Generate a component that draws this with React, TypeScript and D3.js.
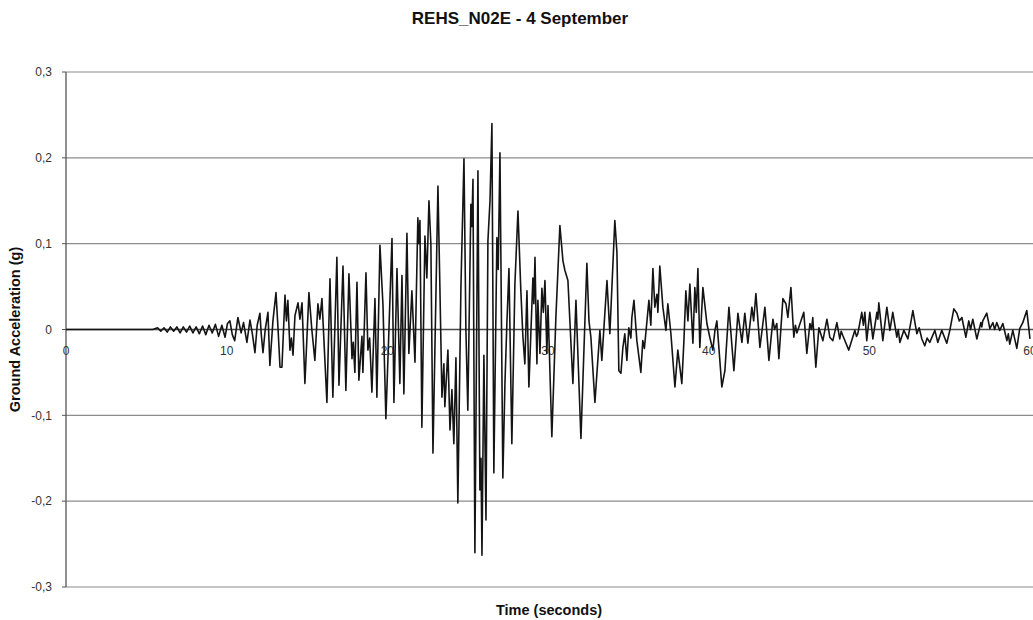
import React from "react";
import * as d3 from "d3";

// Time (s) / ground acceleration (g) pairs read from the record
const onset: [number, number][] = [
  [0, 0], [5.4, 0], [5.7, 0.002], [5.9, -0.002], [6.1, 0.002], [6.3, -0.003], [6.5, 0.003], [6.7, -0.002],
  [6.9, 0.003], [7.1, -0.004], [7.3, 0.003], [7.5, -0.003], [7.7, 0.004], [7.9, -0.004], [8.1, 0.003],
  [8.3, -0.005], [8.5, 0.004], [8.7, -0.006], [8.9, 0.005], [9.1, -0.004], [9.3, 0.006], [9.5, -0.008],
  [9.7, 0.005], [9.9, -0.009], [10.05, 0.007], [10.2, 0.01], [10.35, -0.006], [10.5, -0.013], [10.7, 0.014],
  [10.9, -0.004], [11.05, 0.008], [11.26, -0.015], [11.45, 0.011], [11.6, -0.005], [11.76, -0.027],
  [11.9, 0.005], [12.07, 0.019], [12.15, -0.005], [12.26, -0.027], [12.4, 0.0], [12.57, 0.02],
  [12.69, -0.042], [12.88, 0.01], [13.07, 0.043], [13.2, 0.0], [13.32, -0.044],
];

const strongMotion: [number, number][] = [
  [13.44, -0.044], [13.63, 0.04], [13.72, 0.01], [13.81, 0.034], [13.94, -0.024], [14.03, -0.01],
  [14.13, -0.03], [14.25, 0.016], [14.44, 0.031], [14.56, 0.012], [14.69, 0.031], [14.87, -0.063],
  [15.12, 0.043], [15.3, 0.0], [15.49, -0.036], [15.68, 0.03], [15.8, 0.012], [15.93, 0.036],
  [16.24, -0.085], [16.43, 0.059], [16.61, -0.079], [16.86, 0.084], [16.99, -0.065], [17.24, 0.074],
  [17.42, -0.071], [17.61, 0.065], [17.8, -0.034], [17.88, -0.015], [17.98, -0.05], [18.11, 0.055],
  [18.23, -0.059], [18.42, -0.008], [18.48, -0.05], [18.67, 0.066], [18.79, -0.024], [18.9, -0.01],
  [19.04, -0.073], [19.23, 0.036], [19.35, -0.079], [19.54, 0.098], [19.73, 0.028], [19.91, -0.104],
  [20.1, 0.0], [20.29, 0.106], [20.41, -0.085], [20.6, 0.071], [20.78, -0.063], [20.91, 0.063],
  [21.03, -0.075], [21.22, 0.112], [21.34, -0.028], [21.53, 0.045], [21.72, -0.038], [21.9, 0.13],
  [21.97, 0.1], [22.03, 0.127], [22.15, -0.114], [22.34, 0.109], [22.46, 0.06], [22.59, 0.15],
  [22.71, 0.1], [22.84, -0.144], [23.15, 0.167], [23.27, 0.05], [23.4, -0.079], [23.52, -0.04],
  [23.58, -0.09], [23.77, -0.024], [23.9, -0.117], [24.02, -0.07], [24.14, -0.133], [24.27, -0.033],
  [24.39, -0.202], [24.58, 0.049], [24.77, 0.199], [24.89, 0.0], [25.01, -0.094], [25.2, 0.146],
  [25.26, 0.12], [25.33, 0.175], [25.45, -0.26], [25.64, 0.185], [25.76, -0.187], [25.83, -0.15],
  [25.89, -0.263], [26.01, -0.03], [26.14, -0.222], [26.26, 0.103], [26.39, 0.15], [26.51, 0.24],
  [26.63, -0.167], [26.82, 0.107], [26.9, 0.07], [27.01, 0.206], [27.19, -0.173], [27.32, -0.063],
  [27.44, 0.007], [27.57, 0.071], [27.75, -0.133], [27.94, 0.053], [28.13, 0.138], [28.31, 0.045],
  [28.44, -0.009], [28.56, -0.04], [28.69, 0.045], [28.81, -0.067], [29.06, 0.06], [29.12, 0.03],
  [29.19, 0.084], [29.31, -0.04], [29.37, 0.034], [29.5, -0.028], [29.62, 0.048], [29.71, 0.02],
  [29.81, 0.057], [29.93, -0.028], [30.0, 0.028], [30.24, -0.125], [30.49, 0.014], [30.74, 0.121],
  [30.93, 0.08], [31.05, 0.069], [31.24, 0.057], [31.55, -0.063], [31.74, 0.034], [32.05, -0.127],
  [32.42, 0.077], [32.55, 0.01], [32.67, -0.009], [32.92, -0.085], [33.23, -0.001], [33.35, -0.036],
  [33.67, 0.057], [33.85, -0.005], [34.16, 0.127], [34.29, 0.09], [34.41, -0.048],
];

const coda: [number, number][] = [
  [34.54, -0.051], [34.66, -0.021], [34.78, -0.005], [34.91, -0.036], [35.03, 0.002], [35.16, -0.01],
  [35.22, 0.014], [35.35, 0.034], [35.53, -0.013], [35.78, -0.05], [35.9, -0.013], [36.0, -0.022],
  [36.09, -0.004], [36.28, 0.034], [36.4, 0.005], [36.53, 0.071], [36.65, 0.026], [36.78, 0.041],
  [36.84, 0.02], [36.96, 0.074], [37.15, 0.026], [37.34, -0.001], [37.46, 0.03], [37.65, -0.005],
  [37.9, -0.067], [38.08, -0.024], [38.33, -0.063], [38.46, -0.013], [38.58, 0.045], [38.71, 0.01],
  [38.83, 0.053], [39.02, -0.016], [39.14, 0.049], [39.23, 0.02], [39.33, 0.071], [39.45, -0.021],
  [39.64, 0.049], [39.89, 0.007], [40.07, -0.009], [40.26, -0.024], [40.39, -0.001], [40.51, 0.01],
  [40.82, -0.067], [41.01, -0.048], [41.26, 0.026], [41.57, -0.048], [41.82, 0.019], [42.07, -0.015],
  [42.25, 0.019], [42.44, -0.016], [42.69, 0.026], [42.8, 0.01], [42.94, 0.042], [43.19, -0.021],
  [43.5, 0.026], [43.75, -0.036], [44.0, 0.012], [44.1, 0.0], [44.24, 0.007], [44.37, -0.034],
  [44.62, 0.036], [44.81, 0.03], [44.93, 0.014], [45.12, 0.049], [45.3, -0.009], [45.4, 0.005],
  [45.49, -0.004], [45.74, 0.01], [45.92, 0.02], [46.11, -0.028], [46.3, 0.007], [46.4, 0.0],
  [46.48, 0.014], [46.67, -0.044], [46.86, 0.002], [47.11, -0.013], [47.36, 0.012], [47.54, -0.009],
  [47.73, -0.013], [47.98, 0.008], [48.16, -0.011], [48.25, -0.002], [48.35, -0.007], [48.72, -0.024],
  [49.1, -0.001], [49.2, -0.008], [49.28, -0.005], [49.53, 0.02], [49.63, 0.005], [49.72, 0.02],
  [49.84, -0.013], [50.03, 0.02], [50.22, -0.011], [50.47, 0.02], [50.53, 0.012], [50.59, 0.031],
  [50.84, -0.013], [51.09, 0.026], [51.28, -0.001], [51.46, 0.02], [51.71, -0.009], [51.8, 0.0],
  [51.9, -0.015], [52.15, -0.001], [52.4, -0.011], [52.71, 0.022], [52.96, -0.005], [53.1, 0.002],
  [53.27, -0.011], [53.45, -0.019], [53.6, -0.01], [53.76, -0.015], [54.08, -0.001], [54.26, -0.015],
  [54.51, -0.001], [54.82, -0.016], [55.01, -0.001], [55.26, 0.024], [55.45, 0.019], [55.6, 0.01],
  [55.76, 0.014], [56.01, -0.009], [56.19, 0.01], [56.3, 0.0], [56.44, 0.012], [56.69, -0.011],
  [56.94, 0.008], [57.0, 0.003], [57.06, 0.01], [57.31, 0.019], [57.5, 0.001], [57.69, 0.008],
  [57.8, 0.0], [57.93, 0.008], [58.12, -0.001], [58.31, 0.007], [58.56, -0.013], [58.65, -0.005],
  [58.74, -0.017], [58.93, -0.001], [59.18, -0.022], [59.36, 0.001], [59.55, 0.008], [59.8, 0.022],
  [60.0, -0.011],
];

const yTicks = [-0.3, -0.2, -0.1, 0, 0.1, 0.2, 0.3];
const xTicks = [0, 10, 20, 30, 40, 50, 60];
const title = "REHS_N02E - 4 September";
const xTitle = "Time (seconds)";
const yTitle = "Ground Acceleration (g)";

const W = 1033;
const H = 620;
const FONT = "'Liberation Sans', Arial, sans-serif";

export default function App() {
  const x = d3.scaleLinear().domain([0, 60]).range([66, 1030]);
  const y = d3.scaleLinear().domain([-0.3, 0.3]).range([587, 72]);
  const series = [...onset, ...strongMotion, ...coda];
  const line = d3
    .line<[number, number]>()
    .x((d) => x(d[0]))
    .y((d) => y(d[1]));
  const fmt = (v: number) => (v === 0 ? "0" : v.toFixed(1).replace(".", ","));

  return (
    <svg
      width={W}
      height={H}
      style={{ position: "absolute", left: 0, top: 0, background: "#fff" }}
      fontFamily={FONT}
    >
      <rect x={0} y={0} width={W} height={H} fill="#fff" />
      {yTicks.map((t) => (
        <g key={t}>
          <line
            x1={x(0)}
            x2={W}
            y1={y(t)}
            y2={y(t)}
            stroke={t === 0 ? "#4a4a4a" : "#8c8c8c"}
            strokeWidth={t === 0 ? 1.6 : 1.2}
          />
          <line x1={x(0) - 4} x2={x(0)} y1={y(t)} y2={y(t)} stroke="#555" strokeWidth={1} />
          <text x={52} y={y(t)} dy="0.35em" textAnchor="end" fontSize={12} fill="#333">
            {fmt(t)}
          </text>
        </g>
      ))}
      <line x1={x(0)} x2={x(0)} y1={y(0.3)} y2={y(-0.3)} stroke="#555" strokeWidth={1.3} />
      {xTicks.map((t) => (
        <text key={t} x={x(t)} y={355} textAnchor="middle" fontSize={12} fill="#333">
          {t}
        </text>
      ))}
      <path d={line(series) || ""} fill="none" stroke="#141414" strokeWidth={1.6} strokeLinejoin="round" />
      <text x={520} y={24} textAnchor="middle" fontSize={17} fontWeight="bold" fill="#111">
        {title}
      </text>
      <text x={549} y={615} textAnchor="middle" fontSize={14.5} fontWeight="bold" fill="#111">
        {xTitle}
      </text>
      <text
        transform={`translate(20,${y(0)}) rotate(-90)`}
        textAnchor="middle"
        fontSize={14.5}
        fontWeight="bold"
        fill="#111"
      >
        {yTitle}
      </text>
    </svg>
  );
}
